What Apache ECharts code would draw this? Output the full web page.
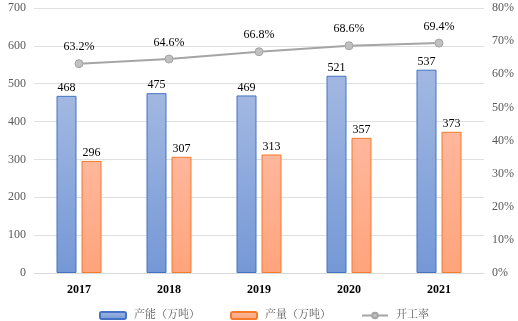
<!DOCTYPE html>
<html><head><meta charset="utf-8">
<script src="https://cdn.jsdelivr.net/npm/echarts@6/dist/echarts.min.js"></script>
<style>html,body{margin:0;padding:0;background:#fff}#c{width:518px;height:321px}</style>
</head><body><div id="c"></div>
<script>
const categories = ['2017','2018','2019','2020','2021'];
const capacity = [468,475,469,521,537];
const output = [296,307,313,357,373];
const utilization = [63.2,64.6,66.8,68.6,69.4];
const font = '"Liberation Serif","Times New Roman","Noto Serif CJK SC","Noto Sans CJK SC",serif';
const chart = echarts.init(document.getElementById('c'));
chart.setOption({
  animation:false,
  textStyle:{fontFamily:font},
  grid:{left:34,right:34,top:8,bottom:48},
  legend:{top:305,left:94,itemWidth:26,itemHeight:7,itemGap:30,
    textStyle:{fontFamily:font,fontSize:11,color:'#595959',padding:[0,0,0,3]},
    data:['产能（万吨）','产量（万吨）','开工率']},
  xAxis:{type:'category',data:categories,
    axisLine:{lineStyle:{color:'#D9D9D9'}},axisTick:{show:false},
    axisLabel:{color:'#000',fontSize:12,fontWeight:'bold',fontFamily:font,margin:11}},
  yAxis:[
    {type:'value',min:0,max:700,interval:100,
     axisLabel:{color:'#595959',fontSize:12,fontFamily:font},
     axisLine:{show:false},axisTick:{show:false},
     splitLine:{lineStyle:{color:'#E0E0E0'}}},
    {type:'value',min:0,max:80,interval:10,
     axisLabel:{color:'#595959',fontSize:12,fontFamily:font,formatter:'{value}%'},
     axisLine:{show:false},axisTick:{show:false},splitLine:{show:false}}
  ],
  series:[
    {name:'产能（万吨）',type:'bar',data:capacity,barWidth:20,barGap:'25%',
     itemStyle:{color:new echarts.graphic.LinearGradient(0,0,0,1,[{offset:0,color:'#A2B8E2'},{offset:1,color:'#7598D6'}]),borderColor:'#4472C4',borderWidth:1},
     label:{show:true,position:'top',distance:2,color:'#000',fontSize:12,fontFamily:font}},
    {name:'产量（万吨）',type:'bar',data:output,barWidth:20,
     itemStyle:{color:new echarts.graphic.LinearGradient(0,0,0,1,[{offset:0,color:'#FFB79C'},{offset:1,color:'#FFA47C'}]),borderColor:'#F47B2C',borderWidth:1},
     label:{show:true,position:'top',distance:2,color:'#000',fontSize:12,fontFamily:font}},
    {name:'开工率',type:'line',yAxisIndex:1,data:utilization,symbol:'circle',symbolSize:8,
     lineStyle:{color:'#A5A5A5',width:2},
     itemStyle:{color:'#C0C0C0',borderColor:'#A5A5A5',borderWidth:1},
     label:{show:true,position:'top',distance:6,color:'#000',fontSize:12,fontFamily:font,formatter:p=>p.value.toFixed(1)+'%'}}
  ]
});
</script></body></html>
